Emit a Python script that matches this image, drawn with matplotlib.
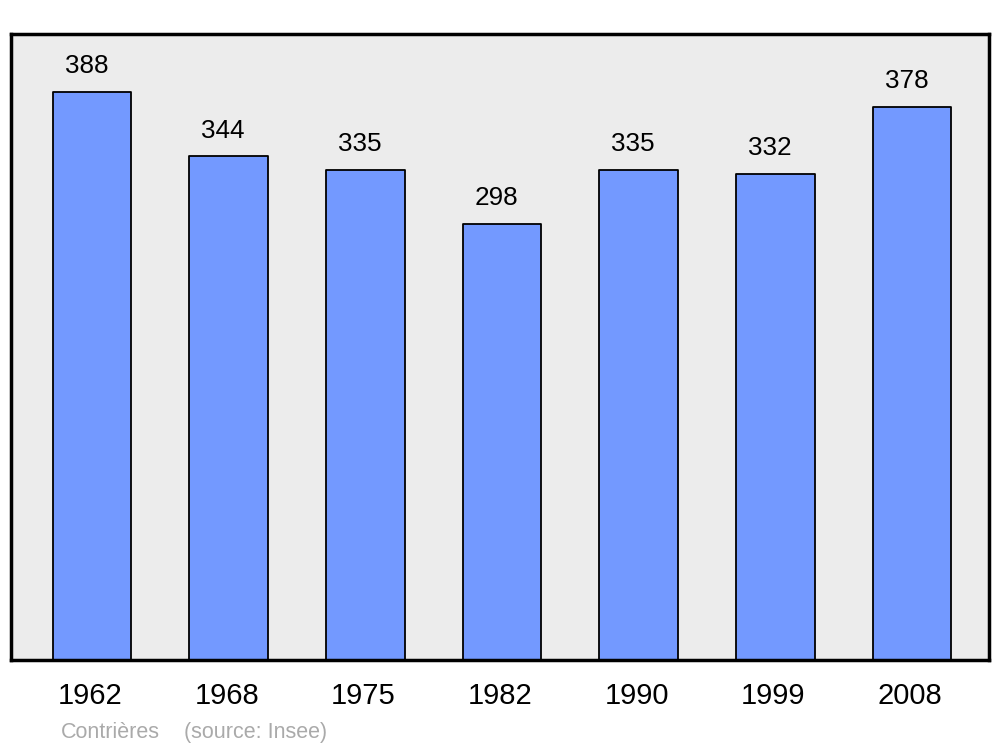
import matplotlib
matplotlib.use("Agg")
import matplotlib.pyplot as plt

years = ["1962", "1968", "1975", "1982", "1990", "1999", "2008"]
population = [388, 344, 335, 298, 335, 332, 378]
commune = "Contrières"
source = "(source: Insee)"

plt.rcParams["font.family"] = ["Liberation Sans", "DejaVu Sans"]

fig = plt.figure(figsize=(10, 7.47), dpi=100)
ax = fig.add_axes([0.011, 0.1165, 0.978, 0.838])
ax.set_facecolor("#ececec")

x = list(range(len(years)))
bars = ax.bar(x, population, width=0.575, color="#7399ff", edgecolor="black",
              linewidth=1.3, zorder=2)
for b in bars:
    b.set_joinstyle("round")

# value labels sit a little left of the bar centre, like the original
for xi, val in zip(x, population):
    ax.annotate(str(val), (xi, val), xytext=(-4, 13.5), textcoords="offset points",
                ha="center", va="baseline", fontsize=18.8)

ax.set_xlim(-0.593, 6.563)
ax.set_ylim(0, 427.6)
ax.set_yticks([])
ax.set_xticks([xi - 0.015 for xi in x])
ax.set_xticklabels(years, fontsize=21)
ax.tick_params(axis="x", length=0, pad=16)

for sp in ax.spines.values():
    sp.set_linewidth(2.5)
    sp.set_joinstyle("round")

fig.text(0.061, 0.0125, commune, fontsize=15.5, color="#aaaaaa", ha="left", va="baseline")
fig.text(0.184, 0.0125, source, fontsize=15.5, color="#aaaaaa", ha="left", va="baseline")

fig.savefig("out.png", dpi=100)
